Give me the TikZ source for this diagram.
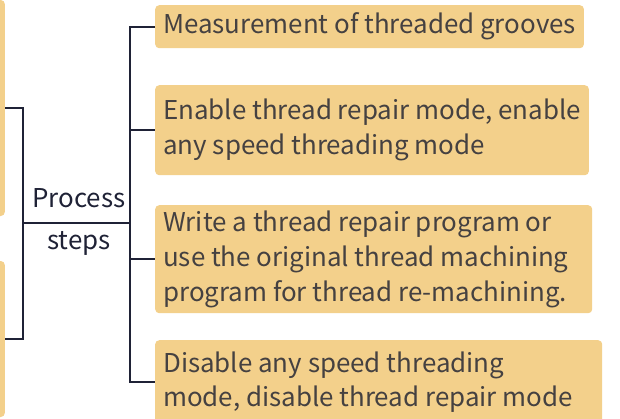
\documentclass[tikz,border=0pt]{standalone}
\usepackage{fontspec}
\setmainfont{Noto Sans CJK SC}
\usepackage{xcolor}
\definecolor{boxfill}{HTML}{F3D08B}
\definecolor{boxtext}{HTML}{454141}
\definecolor{linecol}{HTML}{1F2236}
\begin{document}
\begin{tikzpicture}[x=1bp,y=-1bp,
    stepbox/.style={fill=boxfill,rounded corners=4bp,anchor=north west,align=flush left,
      inner xsep=8bp,inner ysep=0pt,text=boxtext,font=\fontsize{26}{35}\selectfont},
    edgebox/.style={fill=boxfill,rounded corners=4bp,minimum width=60bp,anchor=east},
    link/.style={draw=linecol,line width=1.9bp}]
    \useasboundingbox (0,0) rectangle (620,418);
    \node[edgebox,minimum height=216bp] (prev) at (5,108) {};
    \node[edgebox,minimum height=156bp] (next) at (5,339) {};
    \node[stepbox,minimum height=43bp] (s1) at (155,5) {Measurement of threaded grooves};
    \node[stepbox,minimum height=90bp] (s2) at (155,85) {Enable thread repair mode, enable\\any speed threading mode};
    \node[stepbox,minimum height=108bp,text width=421bp] (s3) at (155,205) {Write a thread repair program or\\use the original thread machining\\program for thread re-machining.};
    \node[stepbox,minimum height=84bp,text width=431bp] (s4) at (155,340) {Disable any speed threading\\mode, disable thread repair mode};
    \node[font=\fontsize{26}{43}\selectfont,text=linecol,align=center] (proc) at (79,222) {Process\\steps};
    \coordinate (lb) at (23,223);
    \coordinate (tr) at (130,223);
    \draw[link] (prev.east) -| (lb) |- (next.east);
    \draw[link] (lb) -- (tr);
    \draw[link] (s1.west) -| (tr) |- (s4.west);
    \draw[link] (tr |- s2.west) -- (s2.west);
    \draw[link] (tr |- s3.west) -- (s3.west);
\end{tikzpicture}
\end{document}
